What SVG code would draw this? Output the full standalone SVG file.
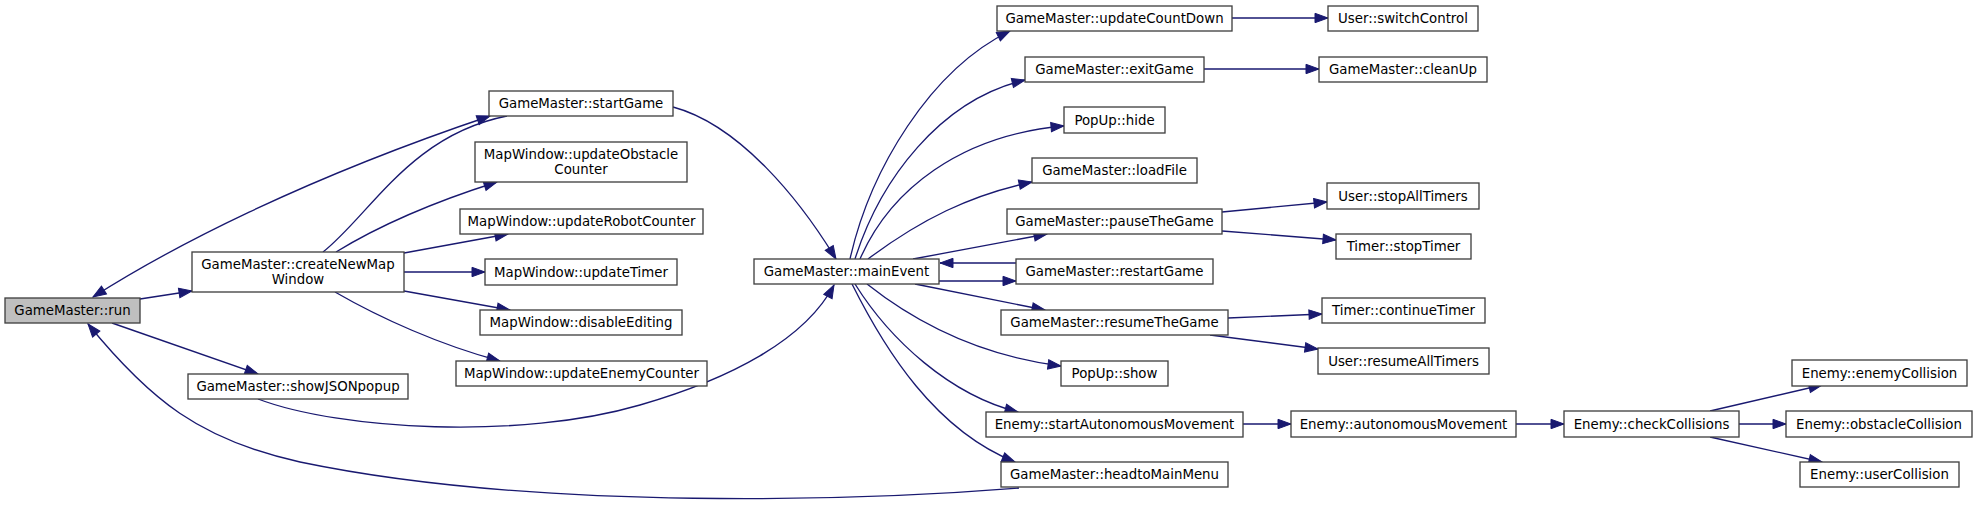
<svg xmlns="http://www.w3.org/2000/svg" width="1977" height="509" viewBox="0 0 1977 509">
<style>
.n rect{fill:#ffffff;stroke:#404040;stroke-width:1.33}
.root rect{fill:#bfbfbf}
text{font-family:"DejaVu Sans","Liberation Sans",sans-serif;font-size:13.33px;text-anchor:middle;fill:#000000}
.e path{fill:none;stroke:#191970;stroke-width:1.33;marker-end:url(#a)}
.e path.both{marker-start:url(#a)}
.e path.none{marker-end:none}
</style>
<defs>
<marker id="a" markerUnits="userSpaceOnUse" markerWidth="15" markerHeight="11" refX="13" refY="4.7" orient="auto-start-reverse" overflow="visible">
<path d="M0,0L13,4.7L0,9.4z" fill="#191970" stroke="#191970" stroke-width="1"/>
</marker>
</defs>
<rect width="1977" height="509" fill="#ffffff"/>
<g id="edges" class="e">
<path d="M140,299L192,291"/>
<path d="M112,323L258,374"/>
<path class="both" d="M93,297C170,248 300,180 490,116"/>
<path class="none" d="M323,252C370,215 410,135 507,116"/>
<path d="M673,107C740,125 800,200 836,259"/>
<path d="M258,399C340,430 520,440 640,405C730,379 805,340 834,285"/>
<path d="M336,252C380,225 440,200 497,182"/>
<path d="M404,253L508,234"/>
<path d="M404,272L485,272"/>
<path d="M404,291L510,310"/>
<path d="M335,292C380,318 440,345 500,361"/>
<path d="M850,259C870,170 930,70 1010,31"/>
<path d="M855,259C880,180 940,100 1025,80"/>
<path d="M860,259C890,190 960,135 1064,126"/>
<path d="M868,259C920,220 970,195 1032,182"/>
<path d="M913,259L1047,234"/>
<path d="M1016,263L940,263"/>
<path d="M939,281L1016,281"/>
<path d="M915,284L1045,310"/>
<path d="M867,284C910,318 975,355 1061,366"/>
<path d="M855,284C890,340 950,395 1018,412"/>
<path d="M852,284C885,350 935,430 1015,462"/>
<path d="M1019,488C870,500 540,512 300,462C200,440 150,400 88,324"/>
<path d="M1232,18L1328,18"/>
<path d="M1204,69L1319,69"/>
<path d="M1222,212L1327,202"/>
<path d="M1222,231L1336,240"/>
<path d="M1228,318L1322,314"/>
<path d="M1210,335L1318,349"/>
<path d="M1243,424L1291,424"/>
<path d="M1516,424L1564,424"/>
<path d="M1710,411L1822,385"/>
<path d="M1739,424L1786,424"/>
<path d="M1710,437L1822,462"/>
</g>
<g id="run" class="n root"><rect x="5" y="298" width="135" height="25"/><text x="72.5" y="315">GameMaster::run</text></g>
<g id="createNewMapWindow" class="n"><rect x="192" y="252" width="212" height="40"/><text x="298" y="268.5">GameMaster::createNewMap</text><text x="298" y="283.5">Window</text></g>
<g id="showJSONpopup" class="n"><rect x="188" y="374" width="220" height="25"/><text x="298" y="391">GameMaster::showJSONpopup</text></g>
<g id="startGame" class="n"><rect x="489" y="91" width="184" height="25"/><text x="581" y="108">GameMaster::startGame</text></g>
<g id="updateObstacleCounter" class="n"><rect x="475" y="142" width="212" height="40"/><text x="581" y="158.5">MapWindow::updateObstacle</text><text x="581" y="173.5">Counter</text></g>
<g id="updateRobotCounter" class="n"><rect x="460" y="209" width="243" height="25"/><text x="581.5" y="226">MapWindow::updateRobotCounter</text></g>
<g id="updateTimer" class="n"><rect x="485" y="259" width="192" height="26"/><text x="581" y="276.5">MapWindow::updateTimer</text></g>
<g id="disableEditing" class="n"><rect x="480" y="310" width="202" height="25"/><text x="581" y="327">MapWindow::disableEditing</text></g>
<g id="updateEnemyCounter" class="n"><rect x="456" y="361" width="251" height="25"/><text x="581.5" y="378">MapWindow::updateEnemyCounter</text></g>
<g id="mainEvent" class="n"><rect x="754" y="259" width="185" height="25"/><text x="846.5" y="276">GameMaster::mainEvent</text></g>
<g id="updateCountDown" class="n"><rect x="997" y="6" width="235" height="25"/><text x="1114.5" y="23">GameMaster::updateCountDown</text></g>
<g id="exitGame" class="n"><rect x="1025" y="57" width="179" height="25"/><text x="1114.5" y="74">GameMaster::exitGame</text></g>
<g id="hide" class="n"><rect x="1064" y="107" width="101" height="26"/><text x="1114.5" y="124.5">PopUp::hide</text></g>
<g id="loadFile" class="n"><rect x="1032" y="158" width="165" height="25"/><text x="1114.5" y="175">GameMaster::loadFile</text></g>
<g id="pauseTheGame" class="n"><rect x="1007" y="209" width="215" height="25"/><text x="1114.5" y="226">GameMaster::pauseTheGame</text></g>
<g id="restartGame" class="n"><rect x="1016" y="259" width="197" height="25"/><text x="1114.5" y="276">GameMaster::restartGame</text></g>
<g id="resumeTheGame" class="n"><rect x="1001" y="310" width="227" height="25"/><text x="1114.5" y="327">GameMaster::resumeTheGame</text></g>
<g id="show" class="n"><rect x="1061" y="361" width="107" height="25"/><text x="1114.5" y="378">PopUp::show</text></g>
<g id="startAutonomousMovement" class="n"><rect x="986" y="412" width="257" height="25"/><text x="1114.5" y="429">Enemy::startAutonomousMovement</text></g>
<g id="headtoMainMenu" class="n"><rect x="1001" y="462" width="227" height="25"/><text x="1114.5" y="479">GameMaster::headtoMainMenu</text></g>
<g id="switchControl" class="n"><rect x="1328" y="6" width="150" height="25"/><text x="1403" y="23">User::switchControl</text></g>
<g id="cleanUp" class="n"><rect x="1319" y="57" width="168" height="25"/><text x="1403" y="74">GameMaster::cleanUp</text></g>
<g id="stopAllTimers" class="n"><rect x="1327" y="183" width="152" height="26"/><text x="1403" y="200.5">User::stopAllTimers</text></g>
<g id="stopTimer" class="n"><rect x="1336" y="234" width="135" height="25"/><text x="1403.5" y="251">Timer::stopTimer</text></g>
<g id="continueTimer" class="n"><rect x="1322" y="298" width="163" height="25"/><text x="1403.5" y="315">Timer::continueTimer</text></g>
<g id="resumeAllTimers" class="n"><rect x="1318" y="348" width="171" height="26"/><text x="1403.5" y="365.5">User::resumeAllTimers</text></g>
<g id="autonomousMovement" class="n"><rect x="1291" y="411" width="225" height="26"/><text x="1403.5" y="428.5">Enemy::autonomousMovement</text></g>
<g id="checkCollisions" class="n"><rect x="1564" y="411" width="175" height="26"/><text x="1651.5" y="428.5">Enemy::checkCollisions</text></g>
<g id="enemyCollision" class="n"><rect x="1792" y="360" width="175" height="26"/><text x="1879.5" y="377.5">Enemy::enemyCollision</text></g>
<g id="obstacleCollision" class="n"><rect x="1786" y="411" width="186" height="26"/><text x="1879" y="428.5">Enemy::obstacleCollision</text></g>
<g id="userCollision" class="n"><rect x="1800" y="462" width="159" height="25"/><text x="1879.5" y="479">Enemy::userCollision</text></g>
</svg>
